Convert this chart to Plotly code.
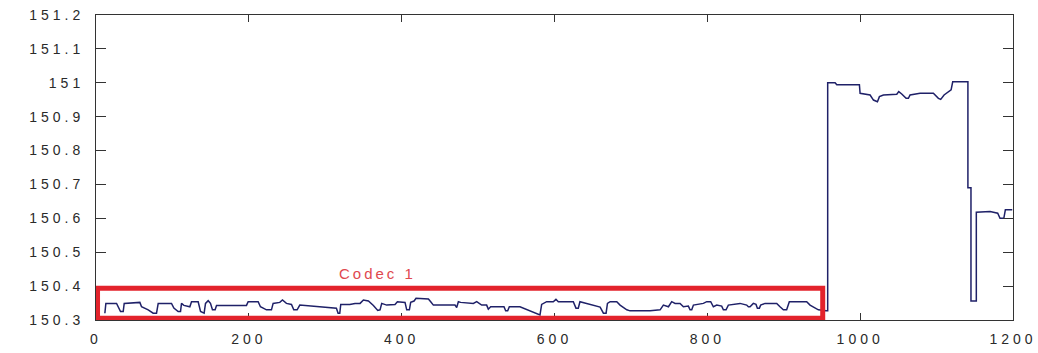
import plotly.graph_objects as go

# Codec 1 stretch: sample index vs. level
codec1_x = [11.6, 12.9, 26.9, 29.1, 32.1, 35.6, 36.9, 57.4, 59.6, 68.3, 74.8, 79.2, 81.4, 98.8,
            101.9, 107.5, 110.6, 111.9, 115.0, 122.8, 125.0, 133.7, 136.8, 141.5, 143.3, 146.8,
            149.8, 152.4, 155.9, 157.7, 196.9, 199.1, 212.2, 215.2, 223.1, 229.6, 231.8, 240.5,
            244.0, 249.2, 255.8, 258.8, 263.2, 266.7, 271.0, 297.2, 314.6, 316.8, 319.0, 320.3,
            332.1, 339.0, 345.6, 349.9, 356.5, 363.0, 368.7, 371.7, 373.9, 380.4, 391.3, 394.4,
            404.4, 406.6, 410.1, 411.8, 416.2, 418.8, 435.0, 438.0, 441.5, 469.8, 472.0, 474.2,
            477.2, 493.8, 498.2, 504.7, 511.2, 513.4, 516.5, 533.9, 536.1, 538.7, 540.9, 554.8,
            557.0, 581.0, 583.2, 589.7, 598.4, 601.9, 605.0, 624.6, 628.1, 631.1, 633.3, 659.7,
            664.0, 667.5, 669.3, 672.8, 681.5, 685.8, 694.6, 698.9, 725.1, 738.2, 742.5, 749.1,
            753.4, 757.8, 764.3, 768.7, 775.2, 777.4, 779.6, 781.8, 794.8, 799.2, 804.4, 807.9,
            812.3, 818.8, 821.0, 824.5, 827.5, 842.8, 851.5, 853.7, 855.9, 860.2, 863.7, 865.5,
            868.1, 869.8, 875.5, 890.8, 895.1, 899.5, 903.8, 907.3, 916.9, 930.0, 934.4, 945.3,
            955.3, 957.5]
codec1_y = [150.320, 150.349, 150.349, 150.339, 150.325, 150.325, 150.349, 150.352, 150.339,
            150.330, 150.320, 150.320, 150.349, 150.349, 150.335, 150.325, 150.325, 150.349,
            150.343, 150.339, 150.354, 150.354, 150.325, 150.320, 150.349, 150.357, 150.349,
            150.330, 150.330, 150.343, 150.343, 150.354, 150.354, 150.339, 150.330, 150.330,
            150.349, 150.352, 150.359, 150.349, 150.346, 150.330, 150.330, 150.344, 150.343,
            150.337, 150.335, 150.320, 150.320, 150.346, 150.346, 150.349, 150.349, 150.359,
            150.356, 150.343, 150.328, 150.330, 150.349, 150.344, 150.346, 150.354, 150.352,
            150.330, 150.330, 150.352, 150.356, 150.364, 150.362, 150.354, 150.344, 150.344,
            150.337, 150.354, 150.352, 150.349, 150.354, 150.344, 150.344, 150.332, 150.339,
            150.339, 150.327, 150.327, 150.339, 150.339, 150.337, 150.315, 150.346, 150.354,
            150.354, 150.361, 150.354, 150.354, 150.335, 150.335, 150.354, 150.338, 150.320,
            150.320, 150.349, 150.354, 150.354, 150.344, 150.330, 150.327, 150.327, 150.330,
            150.344, 150.339, 150.354, 150.349, 150.349, 150.339, 150.341, 150.330, 150.330,
            150.344, 150.349, 150.354, 150.354, 150.339, 150.344, 150.341, 150.330, 150.330,
            150.344, 150.349, 150.344, 150.339, 150.339, 150.349, 150.346, 150.335, 150.335,
            150.344, 150.349, 150.349, 150.339, 150.330, 150.330, 150.354, 150.354, 150.354,
            150.344, 150.330, 150.327, 150.327]

# Codec 2 stretch (high level)
high_x = [957.5, 967.2, 969.4, 999.0, 999.9, 1008.6, 1013.0, 1017.4, 1022.6, 1025.2, 1030.4,
          1047.9, 1050.5, 1054.4, 1060.1, 1063.1, 1065.3, 1078.4, 1095.8, 1102.4, 1105.4,
          1109.8, 1115.5, 1119.0, 1121.1, 1141.0]
high_y = [151.000, 151.000, 150.994, 150.994, 150.969, 150.967, 150.964, 150.949, 150.944,
          150.959, 150.964, 150.966, 150.974, 150.967, 150.954, 150.954, 150.964, 150.969,
          150.969, 150.954, 150.951, 150.964, 150.974, 150.979, 151.003, 151.003]

# Switch-over and trailing stretch
tail_x = [1141.0, 1145.0, 1145.0, 1152.0, 1152.0, 1170.0, 1180.0, 1183.0, 1188.0, 1190.0, 1199.0]
tail_y = [150.690, 150.690, 150.356, 150.356, 150.618, 150.620, 150.615, 150.600, 150.600,
          150.625, 150.625]

x_ticks = [0, 200, 400, 600, 800, 1000, 1200]
x_tick_text = ["0", "200", "400", "600", "800", "1000", "1200"]
y_ticks = [150.3, 150.4, 150.5, 150.6, 150.7, 150.8, 150.9, 151.0, 151.1, 151.2]
y_tick_text = ["150.3", "150.4", "150.5", "150.6", "150.7", "150.8", "150.9", "151",
               "151.1", "151.2"]

# Highlight box around the Codec 1 stretch
codec_box_x = [2, 951]
codec_box_y = [150.305, 150.394]
codec_label = "Codec 1"
codec_label_pos = (369, 150.437)


def wide(s, spacing=4):
    return f'<span style="letter-spacing:{spacing}px">{s}</span>'


xs = codec1_x + high_x + tail_x
ys = codec1_y + high_y + tail_y

fig = go.Figure()
fig.add_trace(go.Scatter(
    x=xs, y=ys, mode="lines",
    line=dict(color="#1f2168", width=1.5),
    hoverinfo="skip", showlegend=False,
))

fig.add_shape(
    type="rect", xref="x", yref="y",
    x0=codec_box_x[0], x1=codec_box_x[1], y0=codec_box_y[0], y1=codec_box_y[1],
    line=dict(color="#e3232c", width=5), fillcolor="rgba(0,0,0,0)", layer="above",
)

fig.add_annotation(
    x=codec_label_pos[0], y=codec_label_pos[1], xref="x", yref="y",
    text=wide(codec_label, 3), showarrow=False,
    font=dict(family="Liberation Sans, Arial", size=15, color="#e0484e"),
)

axis_common = dict(
    showgrid=False, zeroline=False, showline=True, linecolor="#333333", linewidth=1,
    mirror="ticks", ticks="inside", tickcolor="#333333", tickwidth=1, automargin=False,
    tickfont=dict(family="Liberation Sans, Arial", size=14, color="#2a2a2a"),
)

fig.update_xaxes(
    range=[0, 1200], tickvals=x_ticks, ticktext=[wide(t) for t in x_tick_text],
    ticklen=7, ticklabelstandoff=6, **axis_common,
)
fig.update_yaxes(
    range=[150.3, 151.2], tickvals=y_ticks, ticktext=[wide(t) for t in y_tick_text],
    ticklen=10, ticklabelstandoff=8, **axis_common,
)

fig.update_layout(
    width=1038, height=353,
    margin=dict(l=96, r=25, t=15, b=33),
    paper_bgcolor="white", plot_bgcolor="white",
)

fig.write_html("out.html")
